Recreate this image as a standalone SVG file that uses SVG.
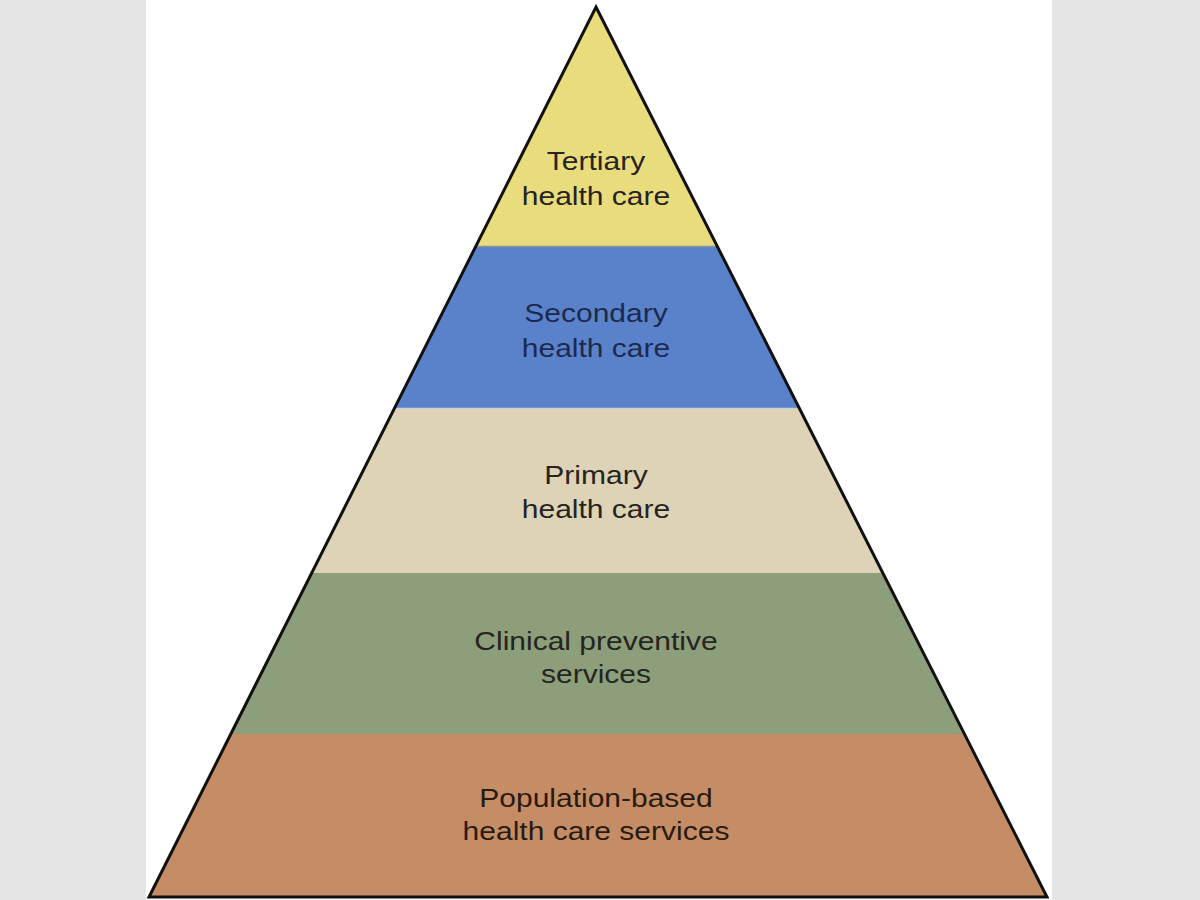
<svg xmlns="http://www.w3.org/2000/svg" width="1200" height="900" viewBox="0 0 1200 900">
  <style>
    .lbl { font-family: "Liberation Sans", Arial, sans-serif; font-size: 25px; text-anchor: middle; fill: #262420; }
    .band { stroke: none; }
  </style>
  <rect x="0" y="0" width="1200" height="900" fill="#e5e5e5"/>
  <rect x="146" y="0" width="906" height="900" fill="#ffffff"/>

  <g id="tertiary">
    <polygon class="band" points="596,7 716.6,246 475.4,246" fill="#e9dc7c"/>
    <text class="lbl" transform="translate(596,170) scale(1.2,1)" x="0" y="0">Tertiary</text>
    <text class="lbl" transform="translate(596,205) scale(1.2,1)" x="0" y="0">health care</text>
  </g>
  <g id="secondary">
    <polygon class="band" points="475.4,246 716.6,246 798.3,408 393.7,408" fill="#5a82cb"/>
    <line x1="475.4" y1="246.5" x2="716.6" y2="246.5" stroke="#8a8f98" stroke-width="1.5"/>
    <text class="lbl" style="fill:#1c2a4f" transform="translate(596,322) scale(1.2,1)" x="0" y="0">Secondary</text>
    <text class="lbl" style="fill:#1c2a4f" transform="translate(596,357) scale(1.2,1)" x="0" y="0">health care</text>
  </g>
  <g id="primary">
    <polygon class="band" points="393.7,408 798.3,408 881.5,573 310.5,573" fill="#ded3b7"/>
    <line x1="393.7" y1="408.5" x2="798.3" y2="408.5" stroke="#c9d0cf" stroke-width="1.5"/>
    <text class="lbl" transform="translate(596,484) scale(1.2,1)" x="0" y="0">Primary</text>
    <text class="lbl" transform="translate(596,518) scale(1.2,1)" x="0" y="0">health care</text>
  </g>
  <g id="clinical">
    <polygon class="band" points="310.5,573 881.5,573 962.8,734 229.2,734" fill="#8d9e7a"/>
    <text class="lbl" transform="translate(596,650) scale(1.2,1)" x="0" y="0">Clinical preventive</text>
    <text class="lbl" transform="translate(596,683) scale(1.2,1)" x="0" y="0">services</text>
  </g>
  <g id="population">
    <polygon class="band" points="229.2,734 962.8,734 1047,897 149,897" fill="#c48d66"/>
    <text class="lbl" style="fill:#2a1a10" transform="translate(596,807) scale(1.2,1)" x="0" y="0">Population-based</text>
    <text class="lbl" style="fill:#2a1a10" transform="translate(596,840) scale(1.2,1)" x="0" y="0">health care services</text>
  </g>

  <g id="outline">
    <polygon points="596,7 1047,897 149,897" fill="none" stroke="#111111" stroke-width="3" stroke-linejoin="miter"/>
  </g>
</svg>
